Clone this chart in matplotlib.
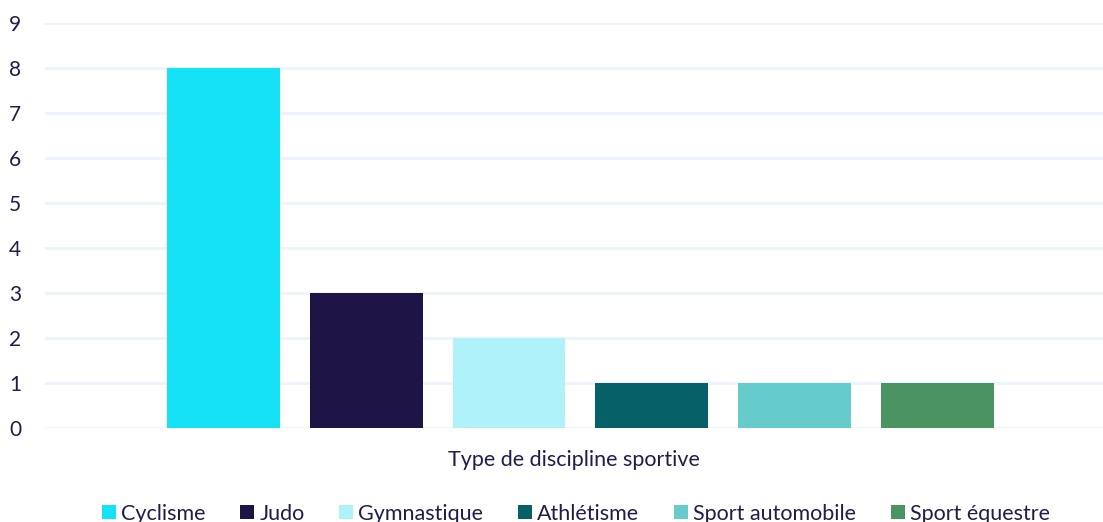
import numpy as np
import matplotlib
matplotlib.use('Agg')
import matplotlib.pyplot as plt
from matplotlib.patches import Patch

## Data
disciplines = ['Cyclisme', 'Judo', 'Gymnastique', 'Athlétisme',
               'Sport automobile', 'Sport équestre']
counts = [8, 3, 2, 1, 1, 1]
colors = ['#15e2f6', '#1e1446', '#b0f2fa', '#056068', '#66cbcb', '#4a9462']
yticks = list(range(0, 10))

text_color = '#1f1d4a'
plt.rcParams['font.family'] = ['Lato', 'DejaVu Sans']

## Plotting
fig = plt.figure(figsize=(11.03, 5.22), dpi=100)
ax = fig.add_axes([0.0408, 0.180, 0.9592, 0.776])

xpos = np.arange(len(disciplines))
ax.bar(xpos, counts, width=0.79, color=colors, zorder=3)

ax.set_xlim(-1.25, 6.16)
ax.set_ylim(0, 9)
ax.set_yticks(yticks)
ax.set_xticks([])
ax.yaxis.grid(True, color='#ecf3fb', linewidth=2, zorder=0)
ax.set_axisbelow(True)
for s in ax.spines.values():
    s.set_visible(False)
ax.tick_params(axis='y', length=0, pad=26, labelsize=15, labelcolor=text_color)
for lab in ax.get_yticklabels():
    lab.set_horizontalalignment('left')

ax.set_xlabel('Type de discipline sportive', fontsize=15.5, color=text_color,
              labelpad=16)

handles = [Patch(facecolor=c, label=d) for c, d in zip(colors, disciplines)]
fig.legend(handles=handles, loc='lower center', ncol=6, frameon=False,
           bbox_to_anchor=(0.522, -0.04), fontsize=15.5, handlelength=0.65,
           handleheight=0.65, handletextpad=0.25, columnspacing=1.6,
           labelcolor=text_color)

fig.savefig('out.png', dpi=100)
